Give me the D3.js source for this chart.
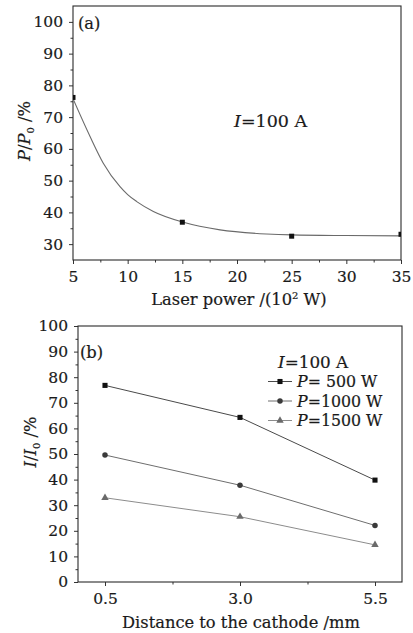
<!DOCTYPE html>
<html>
<head>
<meta charset="utf-8">
<script src="https://cdn.jsdelivr.net/npm/d3@7/dist/d3.min.js"></script>
<style>
  html, body { margin: 0; padding: 0; background: #fff; }
  svg { display: block; }
  text { font-family: "DejaVu Serif", "Liberation Serif", serif; fill: #1a1a1a; stroke: #1a1a1a; stroke-width: 0.2px; }
</style>
</head>
<body>
<svg id="chart" width="413" height="633"></svg>
<script>
// ---- Panel (a): transmitted power ratio vs laser power ----
const powerX = [5, 15, 25, 35];
const powerRatio = [76.2, 36.9, 32.5, 33.1];
// exponential-decay fit curve, sampled along the panel
const fitX = [5, 6.56, 7.77, 9.3, 10.0, 10.83, 12.35, 15.1, 18.45, 22.7, 25, 30, 35];
const fitY = [75.8, 63.9, 55.5, 48.1, 45.6, 43.4, 40.3, 36.9, 34.5, 33.2, 32.9, 32.7, 32.6];
const aXTicks = [5, 10, 15, 20, 25, 30, 35];
const aYTicks = [30, 40, 50, 60, 70, 80, 90, 100];

// ---- Panel (b): current ratio vs distance to cathode ----
const distances = [0.5, 3.0, 5.5];
const seriesNames = ["500", "1000", "1500"];
const current500 = [76.8, 64.3, 39.8];
const current1000 = [49.6, 37.8, 22.1];
const current1500 = [32.9, 25.5, 14.5];
const bXTicks = [0.5, 3.0, 5.5];
const bYTicks = [0, 10, 20, 30, 40, 50, 60, 70, 80, 90, 100];

const svg = d3.select("#chart");
const FS = 15.5;    // tick labels
const FT = 16.3;    // axis titles
const FN = 17.5;    // annotations

function addClip(id, x0, y0, w, h) {
  svg.append("clipPath").attr("id", id)
    .append("rect").attr("x", x0).attr("y", y0).attr("width", w).attr("height", h);
}

function drawFrame(x, y, minorX, minorY, fmtX) {
  const [x0, x1] = x.range();
  const [y0, y1] = y.range();
  const g = svg.append("g");
  // x axis (major + minor ticks outward)
  const xa = g.append("g").attr("transform", `translate(0,${y0})`)
    .call(d3.axisBottom(x).tickValues(x.tickVals).tickSize(4).tickPadding(7).tickFormat(fmtX));
  xa.select(".domain").remove();
  xa.selectAll("text").attr("font-size", FS).attr("font-family", "DejaVu Serif");
  xa.selectAll("line").attr("stroke", "#333");
  const xm = g.append("g").attr("transform", `translate(0,${y0})`)
    .call(d3.axisBottom(x).tickValues(minorX).tickSize(2.5).tickFormat(""));
  xm.select(".domain").remove();
  xm.selectAll("line").attr("stroke", "#333");
  // y axis
  const ya = g.append("g").attr("transform", `translate(${x0},0)`)
    .call(d3.axisLeft(y).tickValues(y.tickVals).tickSize(4).tickPadding(6));
  ya.select(".domain").remove();
  ya.selectAll("text").attr("font-size", FS).attr("font-family", "DejaVu Serif");
  ya.selectAll("line").attr("stroke", "#333");
  const ym = g.append("g").attr("transform", `translate(${x0},0)`)
    .call(d3.axisLeft(y).tickValues(minorY).tickSize(2.5).tickFormat(""));
  ym.select(".domain").remove();
  ym.selectAll("line").attr("stroke", "#333");
  // box
  g.append("rect").attr("x", x0).attr("y", y1).attr("width", x1 - x0).attr("height", y0 - y1)
    .attr("fill", "none").attr("stroke", "#2a2a2a").attr("stroke-width", 1.1);
}

// ================= Panel (a) =================
const xA = d3.scaleLinear().domain([5, 35]).range([73, 401]);
const yA = d3.scaleLinear().domain([25, 105]).range([260, 6]);
xA.tickVals = aXTicks;
yA.tickVals = aYTicks;
drawFrame(xA, yA, d3.range(7.5, 35, 5), d3.range(35, 105, 10), d3.format("d"));
addClip("clipA", 73, 6, 328, 254);

const plotA = svg.append("g").attr("clip-path", "url(#clipA)");
plotA.append("path")
  .datum(fitX.map((v, i) => [v, fitY[i]]))
  .attr("fill", "none").attr("stroke", "#6a6a6a").attr("stroke-width", 1.1)
  .attr("d", d3.line().x(d => xA(d[0])).y(d => yA(d[1])).curve(d3.curveMonotoneX));
plotA.selectAll("rect.pt")
  .data(powerX.map((v, i) => [v, powerRatio[i]]))
  .join("rect").attr("class", "pt")
  .attr("x", d => xA(d[0]) - 2.5).attr("y", d => yA(d[1]) - 2.5)
  .attr("width", 5).attr("height", 5).attr("fill", "#111");

svg.append("text").attr("x", 78).attr("y", 29).attr("font-size", FT).text("(a)");
const tA = svg.append("text").attr("x", 234).attr("y", 127).attr("font-size", FN);
tA.append("tspan").attr("font-style", "italic").text("I");
tA.append("tspan").text("=100 A");

const xTitleA = svg.append("text").attr("x", 239).attr("y", 305)
  .attr("text-anchor", "middle").attr("font-size", FT);
xTitleA.append("tspan").text("Laser power /(10");
xTitleA.append("tspan").attr("font-size", 10).attr("dy", -6).text("2");
xTitleA.append("tspan").attr("dy", 6).text(" W)");

const yTitleA = svg.append("text").attr("transform", "translate(30,131) rotate(-90)")
  .attr("text-anchor", "middle").attr("font-size", FT);
yTitleA.append("tspan").attr("font-style", "italic").text("P");
yTitleA.append("tspan").text("/");
yTitleA.append("tspan").attr("font-style", "italic").text("P");
yTitleA.append("tspan").attr("font-size", 10).attr("dy", 4).text("0");
yTitleA.append("tspan").attr("dy", -4).text(" /%");

// ================= Panel (b) =================
const xB = d3.scaleLinear().domain([0, 6]).range([78, 402]);
const yB = d3.scaleLinear().domain([0, 100]).range([582, 326]);
xB.tickVals = bXTicks;
yB.tickVals = bYTicks;
drawFrame(xB, yB, [1.75, 4.25], d3.range(5, 100, 10), d3.format(".1f"));

const seriesVals = [current500, current1000, current1500];
const lineColors = ["#4a4a4a", "#6e6e6e", "#8c8c8c"];
const markColors = ["#111", "#3a3a3a", "#6a6a6a"];
const symbols = [d3.symbolSquare, d3.symbolCircle, d3.symbolTriangle];
const symSizes = [26, 24, 24];
const lineB = d3.line().x(d => xB(d[0])).y(d => yB(d[1]));

seriesVals.forEach((vals, s) => {
  const pts = distances.map((d, i) => [d, vals[i]]);
  svg.append("path").datum(pts)
    .attr("fill", "none").attr("stroke", lineColors[s]).attr("stroke-width", 1)
    .attr("d", lineB);
  svg.selectAll(null).data(pts).join("path")
    .attr("transform", d => `translate(${xB(d[0])},${yB(d[1])})`)
    .attr("d", d3.symbol().type(symbols[s]).size(symSizes[s]))
    .attr("fill", markColors[s]);
});

svg.append("text").attr("x", 80).attr("y", 358).attr("font-size", FT).text("(b)");
const tB = svg.append("text").attr("x", 278).attr("y", 368).attr("font-size", 16.8);
tB.append("tspan").attr("font-style", "italic").text("I");
tB.append("tspan").text("=100 A");

// legend
seriesNames.forEach((name, s) => {
  const cy = 381.5 + s * 19.5;
  svg.append("line").attr("x1", 268).attr("x2", 292).attr("y1", cy).attr("y2", cy)
    .attr("stroke", lineColors[s]).attr("stroke-width", 1);
  svg.append("path").attr("transform", `translate(280,${cy})`)
    .attr("d", d3.symbol().type(symbols[s]).size(symSizes[s])).attr("fill", markColors[s]);
  const t = svg.append("text").attr("x", 297).attr("y", cy + 5.5).attr("font-size", 15.8);
  t.append("tspan").attr("font-style", "italic").text("P");
  t.append("tspan").text(name.length === 3 ? "= " + name + " W" : "=" + name + " W");
});

svg.append("text").attr("x", 241).attr("y", 628).attr("text-anchor", "middle")
  .attr("font-size", FT).text("Distance to the cathode /mm");

const yTitleB = svg.append("text").attr("transform", "translate(36,442) rotate(-90)")
  .attr("text-anchor", "middle").attr("font-size", FT);
yTitleB.append("tspan").attr("font-style", "italic").text("I");
yTitleB.append("tspan").text("/");
yTitleB.append("tspan").attr("font-style", "italic").text("I");
yTitleB.append("tspan").attr("font-size", 10).attr("dy", 4).text("0");
yTitleB.append("tspan").attr("dy", -4).text(" /%");
</script>
</body>
</html>
